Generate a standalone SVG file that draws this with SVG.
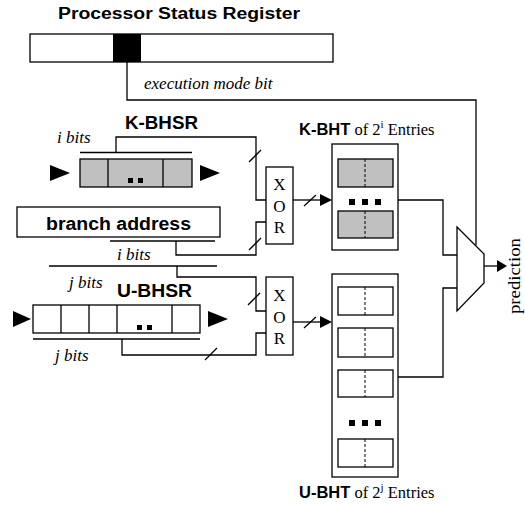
<svg xmlns="http://www.w3.org/2000/svg" width="525" height="505" viewBox="0 0 525 505">
<defs>
<style>
.ln{fill:none;stroke:#000;stroke-width:1.3}
.box{fill:#fff;stroke:#000;stroke-width:1.3}
.gbox{fill:#c0c0c0;stroke:#000;stroke-width:1.3}
.dash{fill:none;stroke:#000;stroke-width:1;stroke-dasharray:3,2}
.hd{fill:#000}
.bs{font-family:"Liberation Sans",Arial,sans-serif;font-weight:bold}
.sf{font-family:"Liberation Serif","Times New Roman",serif}
.it{font-family:"Liberation Serif","Times New Roman",serif;font-style:italic;font-size:17px}
</style>
</defs>
<rect width="525" height="505" fill="#fff"/>
<g id="psr">
<text class="bs" x="58" y="19" font-size="16" textLength="242" lengthAdjust="spacingAndGlyphs">Processor Status Register</text>
<rect class="box" x="30" y="34" width="303" height="28"/>
<rect x="113" y="34" width="28" height="28" fill="#000"/>
<text class="it" x="144" y="89">execution mode bit</text>
</g>
<g id="kbhsr">
<text class="bs" x="125" y="129" font-size="18" textLength="73" lengthAdjust="spacingAndGlyphs">K-BHSR</text>
<text class="it" x="57" y="143">i bits</text>
<rect class="gbox" x="80" y="159" width="112" height="28"/>
<line class="ln" x1="108" y1="159" x2="108" y2="187"/>
<line class="ln" x1="163" y1="159" x2="163" y2="187"/>
<rect x="128" y="178" width="5" height="5"/>
<rect x="138" y="178" width="5" height="5"/>
<polygon class="hd" points="50,165 70,173 50,181"/>
<polygon class="hd" points="200,165 220,173 200,181"/>
</g>
<g id="branch">
<rect class="box" x="17" y="207" width="203" height="30"/>
<text class="bs" x="118.5" y="230" font-size="18" text-anchor="middle" textLength="145" lengthAdjust="spacingAndGlyphs">branch address</text>
<text class="it" x="117" y="260">i bits</text>
</g>
<g id="ubhsr">
<text class="it" x="69" y="288">j bits</text>
<text class="bs" x="117" y="297" font-size="18" textLength="75" lengthAdjust="spacingAndGlyphs">U-BHSR</text>
<rect class="box" x="33" y="305" width="167" height="28"/>
<line class="ln" x1="61" y1="305" x2="61" y2="333"/>
<line class="ln" x1="89" y1="305" x2="89" y2="333"/>
<line class="ln" x1="117" y1="305" x2="117" y2="333"/>
<line class="ln" x1="172" y1="305" x2="172" y2="333"/>
<rect x="137" y="325" width="5" height="5"/>
<rect x="147" y="325" width="5" height="5"/>
<polygon class="hd" points="13,311 31,319 13,327"/>
<polygon class="hd" points="208,311 228,319 208,327"/>
<text class="it" x="55" y="361">j bits</text>
</g>
<g id="xor1">
<rect class="box" x="266" y="167" width="27" height="77"/>
<text class="sf" font-size="17" text-anchor="middle" x="279.5" y="190">X</text>
<text class="sf" font-size="17" text-anchor="middle" x="279.5" y="212">O</text>
<text class="sf" font-size="17" text-anchor="middle" x="279.5" y="233">R</text>
</g>
<g id="xor2">
<rect class="box" x="266" y="277" width="27" height="78"/>
<text class="sf" font-size="17" text-anchor="middle" x="279.5" y="301">X</text>
<text class="sf" font-size="17" text-anchor="middle" x="279.5" y="323">O</text>
<text class="sf" font-size="17" text-anchor="middle" x="279.5" y="344">R</text>
</g>
<g id="kbht">
<text x="299" y="135"><tspan class="bs" font-size="16.5">K-BHT</tspan><tspan class="sf" font-size="16.5"> of 2</tspan><tspan class="sf" font-size="11" dy="-7">i</tspan><tspan class="sf" font-size="16.5" dy="7"> Entries</tspan></text>
<rect class="box" x="332" y="144" width="66" height="106"/>
<rect class="gbox" x="338" y="159" width="55" height="28"/>
<line class="dash" x1="365" y1="159" x2="365" y2="187"/>
<rect class="gbox" x="338" y="211" width="55" height="27"/>
<line class="dash" x1="365" y1="211" x2="365" y2="238"/>
<rect x="349" y="199" width="6" height="6"/>
<rect x="362" y="199" width="6" height="6"/>
<rect x="375" y="199" width="6" height="6"/>
</g>
<g id="ubht">
<rect class="box" x="332" y="274" width="66" height="203"/>
<rect class="box" x="338" y="287" width="55" height="28"/>
<line class="dash" x1="365" y1="287" x2="365" y2="315"/>
<rect class="box" x="338" y="328" width="55" height="29"/>
<line class="dash" x1="365" y1="328" x2="365" y2="357"/>
<rect class="box" x="338" y="370" width="55" height="27"/>
<line class="dash" x1="365" y1="370" x2="365" y2="397"/>
<rect x="349" y="420" width="6" height="6"/>
<rect x="362" y="420" width="6" height="6"/>
<rect x="375" y="420" width="6" height="6"/>
<rect class="box" x="338" y="439" width="55" height="28"/>
<line class="dash" x1="365" y1="439" x2="365" y2="467"/>
<text x="299" y="498"><tspan class="bs" font-size="16.5">U-BHT</tspan><tspan class="sf" font-size="16.5"> of 2</tspan><tspan class="sf" font-size="11" dy="-7">j</tspan><tspan class="sf" font-size="16.5" dy="7"> Entries</tspan></text>
</g>
<g id="mux">
<polygon class="box" points="457,227 484,254 484,283 457,311"/>
<text class="sf" font-size="16" transform="translate(520,314) rotate(-90)" textLength="76" lengthAdjust="spacingAndGlyphs">prediction</text>
</g>
<g id="connectors">
<path class="ln" d="M127,62 V100 H476 V245"/>
<line class="ln" x1="80" y1="152.5" x2="192" y2="152.5"/>
<path class="ln" d="M116,152.5 V137 H256 V200 H266"/>
<line class="ln" x1="249" y1="162" x2="261" y2="150"/>
<line class="ln" x1="110" y1="241" x2="215" y2="241"/>
<path class="ln" d="M176,241 V255 H256 V222 H266"/>
<line class="ln" x1="249" y1="250" x2="261" y2="238"/>
<line class="ln" x1="49" y1="266" x2="217" y2="266"/>
<path class="ln" d="M177,266 V277 H256 V311 H266"/>
<line class="ln" x1="248" y1="305" x2="260" y2="293"/>
<line class="ln" x1="33" y1="339" x2="200" y2="339"/>
<path class="ln" d="M122,339 V355 H256 V333 H266"/>
<line class="ln" x1="205" y1="360" x2="217" y2="348"/>
<line class="ln" x1="293" y1="200" x2="321" y2="200"/>
<polygon class="hd" points="320,194 332,200 320,206"/>
<line class="ln" x1="304" y1="206" x2="316" y2="195"/>
<line class="ln" x1="293" y1="322" x2="321" y2="322"/>
<polygon class="hd" points="320,316 332,322 320,328"/>
<line class="ln" x1="304" y1="328" x2="316" y2="317"/>
<path class="ln" d="M398,200 H443 V255 H457"/>
<path class="ln" d="M398,377 H443 V288 H457"/>
<line class="ln" x1="484" y1="266" x2="498" y2="266"/>
<polygon class="hd" points="497,260 507,266 497,272"/>
</g>
</svg>
